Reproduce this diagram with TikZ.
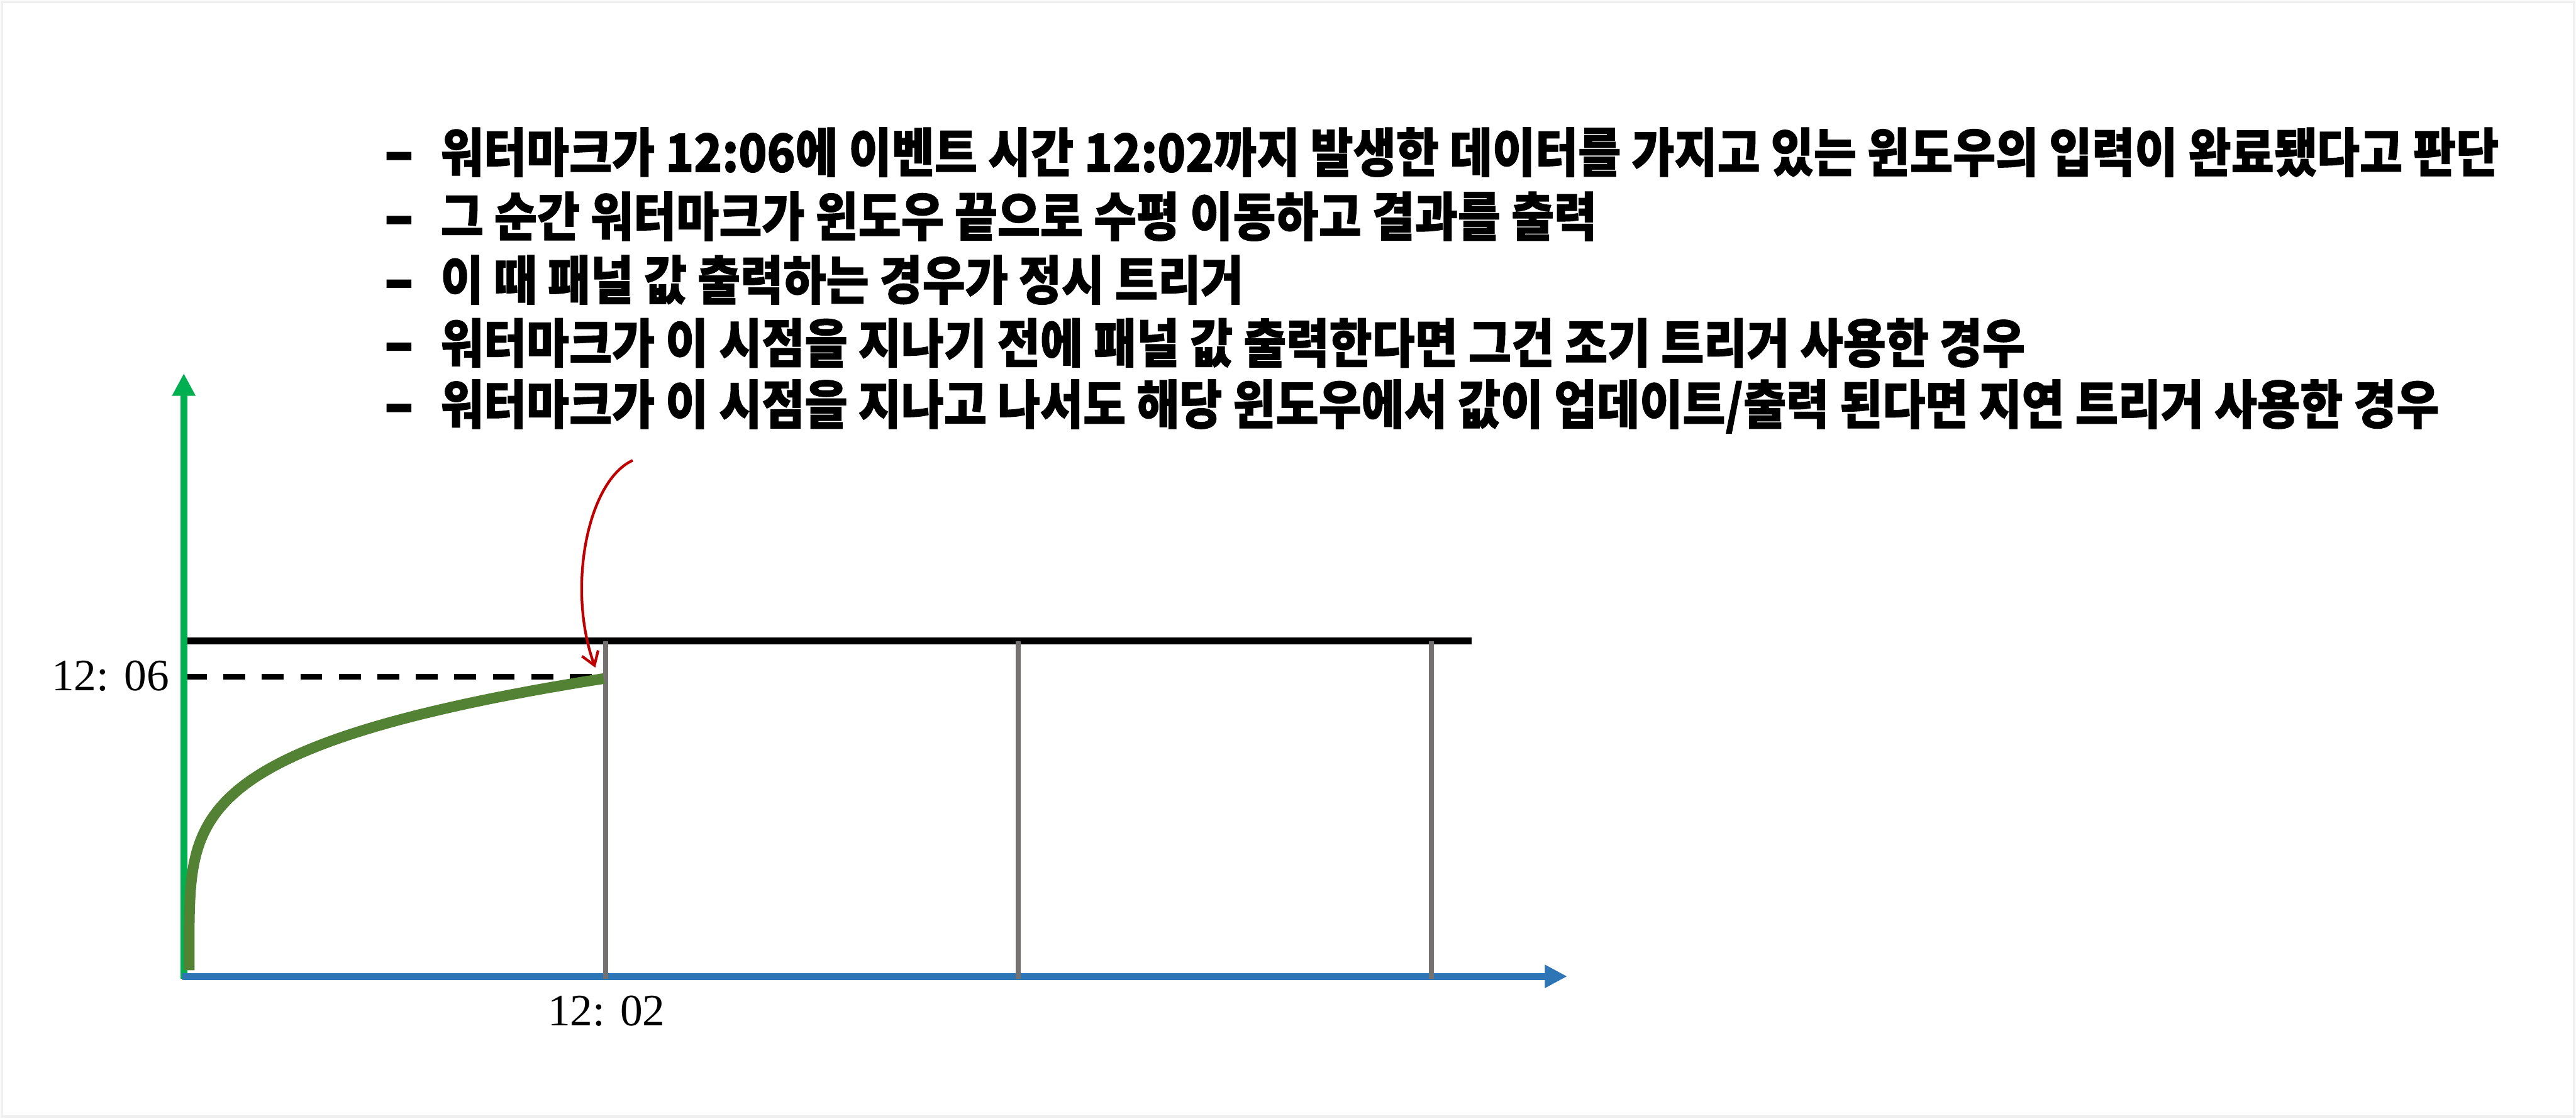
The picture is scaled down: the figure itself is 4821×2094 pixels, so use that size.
\documentclass[tikz,border=0pt]{standalone}
\usepackage{fontspec}
\setmainfont{Liberation Serif}
\newfontfamily\kr[FakeStretch=0.885, BoldFeatures={FakeBold=1.2}]{Noto Sans CJK KR}
\usetikzlibrary{arrows.meta}
\definecolor{frameGray}{HTML}{EFEFEF}
\definecolor{axisGreen}{HTML}{00B050}
\definecolor{axisBlue}{HTML}{2E75B6}
\definecolor{curveGreen}{HTML}{548235}
\definecolor{winGray}{HTML}{767171}
\definecolor{arrowRed}{HTML}{C00000}
\newcommand{\bulletdash}{\makebox[1.08cm][l]{\raisebox{-0.03cm}{\scalebox{1.8}[1.15]{-}}}}
\begin{document}
\begin{tikzpicture}[x=0.01cm,y=-0.01cm,
  txt/.style={font=\kr\bfseries\fontsize{28}{32}\selectfont, anchor=west, inner sep=0pt},
  tlabel/.style={font=\fontsize{23.9}{26}\selectfont, inner sep=0pt},
  axisline/.style={line width=0.13cm},
  winline/.style={winGray, line width=0.095cm},
  headTri/.style={-{Triangle[length=0.42cm,width=0.41cm]}}]
\useasboundingbox (0,0) rectangle (4821,2094);
\fill[white] (0,0) rectangle (4821,2094);
\draw[frameGray, line width=0.05cm] (3.5,3.5) rectangle (4817.5,2090.5);

% text
\node[txt] (l1) at (716,285) {\bulletdash 워터마크가 12:06에 이벤트 시간 12:02까지 발생한 데이터를 가지고 있는 윈도우의 입력이 완료됐다고 판단};
\node[txt] (l2) at (716,405) {\bulletdash 그 순간 워터마크가 윈도우 끝으로 수평 이동하고 결과를 출력};
\node[txt] (l3) at (716,524) {\bulletdash 이 때 패널 값 출력하는 경우가 정시 트리거};
\node[txt] (l4) at (716,642) {\bulletdash 워터마크가 이 시점을 지나기 전에 패널 값 출력한다면 그건 조기 트리거 사용한 경우};
\node[txt] (l5) at (716,761) {\bulletdash 워터마크가 이 시점을 지나고 나서도 해당 윈도우에서 값이 업데이트/출력 된다면 지연 트리거 사용한 경우};

% coordinates
\coordinate (o) at (344,1832);
\coordinate (ytip) at (344,699);
\coordinate (xo) at (341,1828);
\coordinate (xtip) at (2933,1828);
\coordinate (hl) at (344,1200);
\coordinate (hr) at (2754,1200);
\coordinate (w1t) at (1133,1200);
\coordinate (w1b) at (1133,1833);
\coordinate (w2t) at (1906,1200);
\coordinate (w2b) at (1906,1833);
\coordinate (w3t) at (2679,1200);
\coordinate (w3b) at (2679,1833);
\coordinate (dl) at (346,1267);
\coordinate (dr) at (1133,1267);
\coordinate (rs) at (1184,862);
\coordinate (rt) at (1114,1250);

% watermark horizontal line
\draw[line width=0.135cm] (hl) -- (hr);
% dashed line
\draw[line width=0.10cm, dash pattern=on 0.41cm off 0.31cm] (dl) -- (dr);
% axes
\draw[axisline, axisGreen, headTri] (o) -- (ytip);
\draw[axisline, axisBlue, headTri] (xo) -- (xtip);
% window lines
\draw[winline] (w1t) -- (w1b);
\draw[winline] (w2t) -- (w2b);
\draw[winline] (w3t) -- (w3b);
% watermark curve
\draw[curveGreen, line width=0.2cm, line join=round]
  plot[domain=0.01:1, samples=220, variable=\s] ({354+779*(\s)^4.5}, {1822-552*\s});
% red arrow
\draw[arrowRed, line width=0.05cm, -{Straight Barb[length=0.24cm,width=0.32cm]}]
  (rs) .. controls (1100,900) and (1060,1100) .. (rt);

% labels
\node[tlabel, anchor=east] (y06) at (317,1266) {12: 06};
\node[tlabel, anchor=center] (x02) at (1135,1893) {12: 02};
\end{tikzpicture}
\end{document}
